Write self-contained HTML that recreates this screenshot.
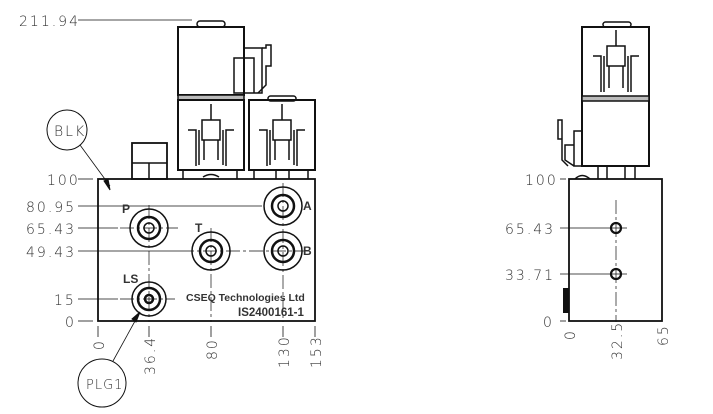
<!DOCTYPE html><html><head><style>body{margin:0;background:#fff}svg{display:block}text{font-family:"Liberation Sans",sans-serif;font-size:15px;fill:#333}.d{font-family:"DejaVu Sans",sans-serif;font-size:14px;letter-spacing:2px;font-weight:200}</style></head><body>
<svg width="713" height="414" viewBox="0 0 713 414" fill="none" stroke="#111">
<line x1="78" y1="20" x2="192" y2="20" stroke-width="0.8"/>
<text x="19" y="26" class="d" stroke="none">211.94</text>
<rect x="197" y="21" width="28" height="6" rx="3" stroke-width="1.5"/>
<rect x="178" y="27" width="66" height="68" stroke-width="2"/>
<rect x="178" y="95" width="66" height="5" fill="#bbb" stroke-width="1.5"/>
<path d="M244 48 H262 V93 L254 93 V58 H234 V93 H254" stroke-width="1.5"/>
<path d="M262 48 H266 V45 H271 V66 H266 V85 L258 93" stroke-width="1.5"/>
<rect x="178" y="100" width="66" height="70" stroke-width="2"/>
<rect x="249" y="100" width="66" height="70" stroke-width="2"/>
<rect x="268" y="96" width="28" height="5" rx="2.5" stroke-width="1.5"/>
<g stroke-width="1.5">
<path d="M211 104 V120 M202 120 H220 V140 H202 Z M199 130 V165 M223 130 V165 M188 130 H196 V166 M234 130 H226 V166 M204 140 V160 M218 140 V160"/>
<path d="M282 104 V120 M273 120 H291 V140 H273 Z M270 130 V165 M294 130 V165 M259 130 H267 V166 M305 130 H297 V166 M275 140 V160 M289 140 V160"/>
<path d="M180 170 H240 M183 170 V179 M237 170 V179 M254 170 V179 M276 170 V179 M289 170 V179 M308 170 V179 M203 177 Q211 172 219 177"/>
</g>
<rect x="132" y="143" width="35" height="36" stroke-width="1.8"/>
<path d="M132 163 H167 M149 163 V179" stroke-width="1.5"/>
<rect x="98" y="179" width="217" height="142" stroke-width="1.8"/>
<g stroke-width="0.7" stroke-dasharray="14 3 3 3">
<line x1="149" y1="205" x2="149" y2="322"/><line x1="211" y1="228" x2="211" y2="322"/><line x1="283" y1="183" x2="283" y2="322"/>
<line x1="120" y1="228" x2="178" y2="228"/><line x1="180" y1="251" x2="310" y2="251"/><line x1="120" y1="299" x2="175" y2="299"/>
</g>
<g stroke-width="0.8">
<line x1="78" y1="179" x2="93" y2="179"/><line x1="78" y1="206" x2="262" y2="206"/><line x1="78" y1="228" x2="118" y2="228"/><line x1="78" y1="251" x2="180" y2="251"/><line x1="78" y1="299" x2="118" y2="299"/><line x1="78" y1="321" x2="93" y2="321"/>
<line x1="98" y1="326" x2="98" y2="337"/><line x1="149" y1="326" x2="149" y2="337"/><line x1="211" y1="326" x2="211" y2="337"/><line x1="283" y1="326" x2="283" y2="337"/><line x1="315" y1="326" x2="315" y2="337"/>
</g>
<g stroke-width="1.5">
<circle cx="149" cy="228" r="19"/><circle cx="149" cy="228" r="11" stroke-width="2.5"/><circle cx="149" cy="228" r="5"/>
<circle cx="211" cy="251" r="19"/><circle cx="211" cy="251" r="11" stroke-width="2.5"/><circle cx="211" cy="251" r="5"/>
<circle cx="283" cy="206" r="19"/><circle cx="283" cy="206" r="11" stroke-width="2.5"/><circle cx="283" cy="206" r="5"/>
<circle cx="283" cy="251" r="19"/><circle cx="283" cy="251" r="11" stroke-width="2.5"/><circle cx="283" cy="251" r="5"/>
<circle cx="149" cy="299" r="17"/><circle cx="149" cy="299" r="11" stroke-width="2.5"/><circle cx="149" cy="299" r="4" stroke-width="2.5"/>
</g>
<g stroke="none" fill="#111">
<text x="122" y="213" fill="#111" style="font-weight:bold;font-size:12px">P</text>
<text x="195" y="232" fill="#111" style="font-weight:bold;font-size:12px">T</text>
<text x="303" y="210" fill="#111" style="font-weight:bold;font-size:12px">A</text>
<text x="303" y="255" fill="#111" style="font-weight:bold;font-size:12px">B</text>
<text x="123" y="283" fill="#111" style="font-weight:bold;font-size:12px">LS</text>
<text x="186" y="301" fill="#111" style="font-weight:bold;font-size:10.5px">CSEQ  Technologies  Ltd</text>
<text x="238" y="316" fill="#111" style="font-weight:bold;font-size:11.5px">IS2400161-1</text>
</g>
<g stroke="none">
<text x="47" y="185" class="d">100</text>
<text x="26" y="212" class="d">80.95</text>
<text x="26" y="234" class="d">65.43</text>
<text x="26" y="257" class="d">49.43</text>
<text x="54" y="305" class="d">15</text>
<text x="65" y="327" class="d">0</text>
<text class="d" transform="translate(104,350) rotate(-90)">0</text>
<text class="d" transform="translate(155,375) rotate(-90)">36.4</text>
<text class="d" transform="translate(217,360) rotate(-90)">80</text>
<text class="d" transform="translate(289,368) rotate(-90)">130</text>
<text class="d" transform="translate(321,368) rotate(-90)">153</text>
</g>
<circle cx="67" cy="130" r="20" stroke-width="1"/><text x="54" y="136" class="d" stroke="none">BLK</text>
<line x1="80" y1="145" x2="110" y2="186" stroke-width="0.8"/><path d="M110 190 L104 181 L108 179 Z" fill="#111"/>
<circle cx="102" cy="383" r="24" stroke-width="1"/><text x="86" y="389" class="d" stroke="none" style="letter-spacing:1px;font-size:13px">PLG1</text>
<line x1="113" y1="361" x2="140" y2="312" stroke-width="0.8"/><path d="M140 312 L136 322 L132 319 Z" fill="#111"/>
<rect x="603" y="22" width="28" height="5" rx="2.5" stroke-width="1.5"/>
<rect x="582" y="27" width="67" height="139" stroke-width="2"/>
<rect x="582" y="96" width="67" height="5" fill="#bbb" stroke-width="1.5"/>
<g stroke-width="1.5">
<path d="M616 30 V46 M607 46 H625 V66 H607 Z M604 56 V92 M628 56 V92 M593 56 H601 V92 M639 56 H631 V92 M609 66 V88 M623 66 V88"/>
<path d="M582 131 H574 V166 H582 M574 145 H565 V160 L574 166 M558 120 H562 V139 H558 Z M562 120 V160 L568 166"/>
<path d="M598 166 V179 M607 166 V179 M625 166 V179 M635 166 V179 M575 179 Q582 172 590 179"/>
</g>
<rect x="569" y="179" width="93" height="142" stroke-width="1.8"/>
<rect x="563" y="288" width="6" height="25" fill="#111" stroke="none"/>
<line x1="616" y1="200" x2="616" y2="322" stroke-width="0.7" stroke-dasharray="14 3 3 3"/>
<g stroke-width="0.8">
<line x1="560" y1="179" x2="566" y2="179"/><line x1="560" y1="228" x2="627" y2="228"/><line x1="560" y1="274" x2="627" y2="274"/><line x1="560" y1="321" x2="566" y2="321"/>
</g>
<circle cx="616" cy="228" r="5" stroke-width="2.2"/><circle cx="616" cy="274" r="5" stroke-width="2.2"/>
<g stroke="none">
<text x="525" y="185" class="d">100</text>
<text x="505" y="234" class="d">65.43</text>
<text x="505" y="280" class="d">33.71</text>
<text x="543" y="327" class="d">0</text>
<text class="d" transform="translate(575,340) rotate(-90)">0</text>
<text class="d" transform="translate(622,360) rotate(-90)">32.5</text>
<text class="d" transform="translate(668,346) rotate(-90)">65</text>
</g>
</svg></body></html>
